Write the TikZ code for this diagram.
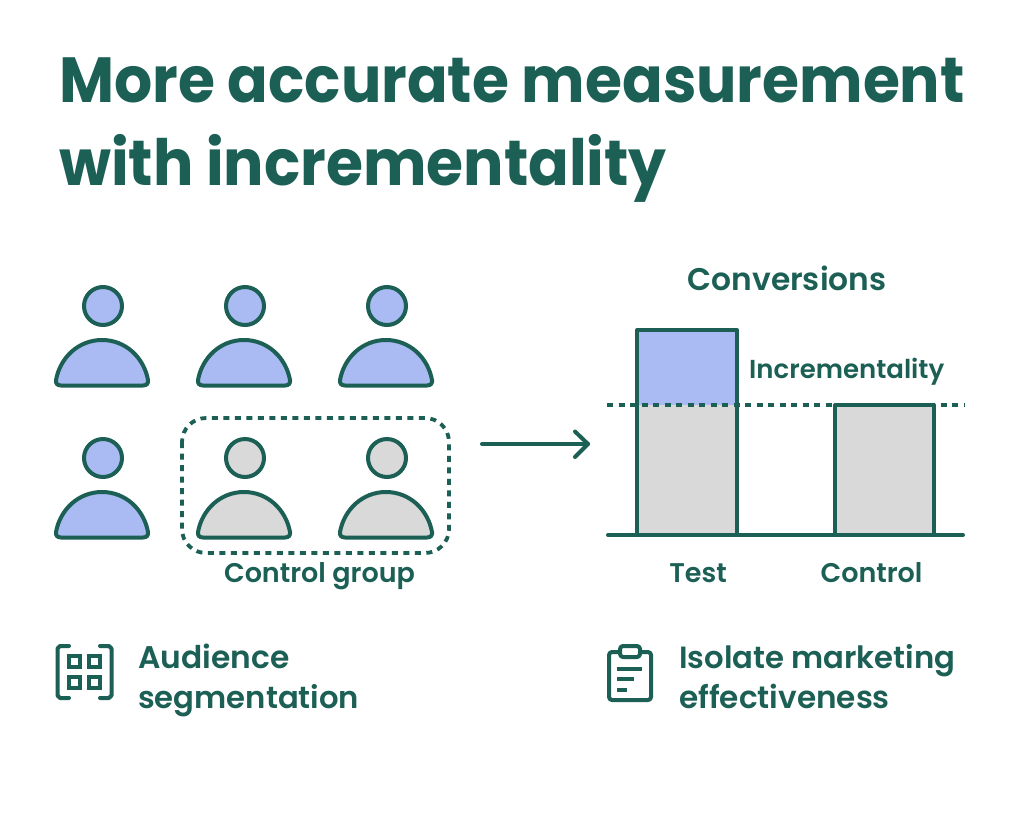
\documentclass[tikz,border=0pt]{standalone}
\usepackage{fontspec}
\setmainfont{Poppins}[UprightFont=* SemiBold,BoldFont=* Bold]
\newfontfamily\titlefont{Poppins}[UprightFont=* Bold,FakeStretch=0.94]
\usetikzlibrary{arrows.meta}
\definecolor{dkgreen}{HTML}{1B5F55}
\definecolor{ltblue}{HTML}{A9BBF2}
\definecolor{ltgray}{HTML}{D9D9D9}
\tikzset{
    outline/.style={draw=dkgreen,line width=4pt,line join=round,line cap=round},
    head/.style={outline,circle,minimum size=38pt,inner sep=0pt},
    label/.style={text=dkgreen,font=\fontsize{27}{27}\selectfont,inner sep=0pt},
    title/.style={text=dkgreen,font=\titlefont\fontsize{63.8}{64}\selectfont,inner sep=0pt},
    dotline/.style={draw=dkgreen,line width=3.8pt,dash pattern=on 6pt off 5.5pt},
}
% one person: name, x of the middle, y of the head, fill
\newcommand{\person}[4]{
    \node[head,fill=#4] (head#1) at (#2+1,#3) {};
    \draw[outline,fill=#4] (#2-41,#3+79.5) .. controls (#2-45,#3+79.5) and (#2-46.5,#3+77) .. (#2-46,#3+74)
        .. controls (#2-42,#3+52) and (#2-24,#3+34) .. (#2,#3+34)
        .. controls (#2+24,#3+34) and (#2+42,#3+52) .. (#2+46,#3+74)
        .. controls (#2+46.5,#3+77) and (#2+45,#3+79.5) .. (#2+41,#3+79.5) -- cycle;
}
\begin{document}
\begin{tikzpicture}[x=1pt,y=-1pt]
    \useasboundingbox (0,0) rectangle (1024,825);
    \fill[white] (0,0) rectangle (1024,825);
    \node[title,anchor=base west] (titleone) at (59,102) {More accurate measurement};
    \node[title,anchor=base west] (titletwo) at (59,185) {with incrementality};
    % people
    \foreach \name/\px/\py/\col in {a/102/306/ltblue,b/244/306/ltblue,c/386/306/ltblue,d/102/458/ltblue,e/244/458/ltgray,f/386/458/ltgray}
        \person{\name}{\px}{\py}{\col};
    \draw[dotline,rounded corners=24pt] (182,418) rectangle (449,553);
    \node[label,anchor=base] (controlgroup) at (319.5,582) {Control group};
    % arrow
    \coordinate (arrowstart) at (482,444);
    \coordinate (arrowend) at (588,444);
    \draw[outline] (arrowstart) -- (arrowend);
    \draw[outline] (575,431.5) -- (arrowend) -- (575,457);
    % bars
    \node[label,anchor=base] (conversions) at (787,290) {\fontsize{31.3}{31}\selectfont Conversions};
    \fill[ltblue] (637,405) rectangle (737,330);
    \fill[ltgray] (637,405) rectangle (737,535);
    \draw[outline] (637,535) -- (637,330) -- (737,330) -- (737,535);
    \draw[outline,fill=ltgray] (835,535) -- (835,405) -- (934,405) -- (934,535);
    \draw[outline] (608,535) -- (963,535);
    \draw[dotline] (607,405) -- (965,405);
    \node[label,anchor=base west] (incr) at (749,378) {\fontsize{26}{26}\selectfont Incrementality};
    \node[label,anchor=base] (test) at (698,582) {Test};
    \node[label,anchor=base] (control) at (871.5,582) {Control};
    % left icon
    \draw[outline] (69,646) -- (60,646) -- (57.5,648.5) -- (57.5,695.5) -- (60,698) -- (69,698);
    \draw[outline] (100,646) -- (109,646) -- (111.5,648.5) -- (111.5,695.5) -- (109,698) -- (100,698);
    \foreach \sx/\sy in {69/656,89/656,69/677,89/677}
        \draw[draw=dkgreen,line width=4pt] (\sx,\sy) rectangle +(11,11);
    \node[label,anchor=base west] (aud) at (138,668) {\fontsize{31.3}{31}\selectfont Audience};
    \node[label,anchor=base west] (seg) at (138,708) {\fontsize{30.7}{31}\selectfont segmentation};
    % right icon
    \draw[outline,rounded corners=3pt] (609,652) rectangle (651,700);
    \draw[outline,rounded corners=3pt,fill=white] (620,646) rectangle (640,657);
    \draw[draw=dkgreen,line width=4pt] (617,669) -- (642,669);
    \draw[draw=dkgreen,line width=4pt] (617,679) -- (634,679);
    \draw[draw=dkgreen,line width=4pt] (617,690) -- (627,690);
    \node[label,anchor=base west] (iso) at (679,668) {\fontsize{30.7}{31}\selectfont Isolate marketing};
    \node[label,anchor=base west] (eff) at (679,708) {\fontsize{31.1}{31}\selectfont effectiveness};
\end{tikzpicture}
\end{document}
